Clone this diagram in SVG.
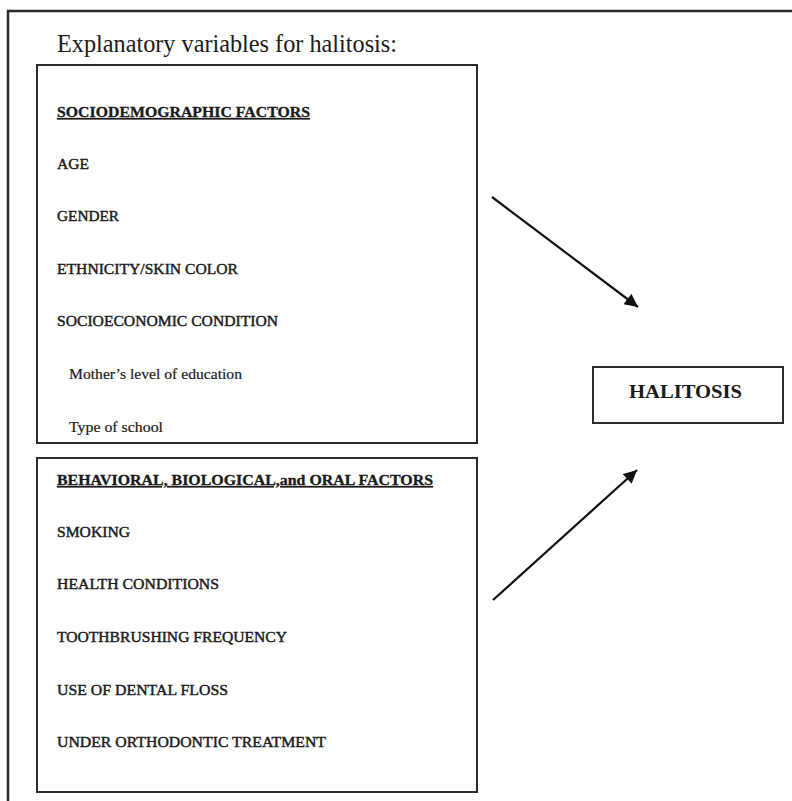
<svg xmlns="http://www.w3.org/2000/svg" width="792" height="801" viewBox="0 0 792 801">
<defs>
<style>
.frame{fill:none;stroke:#2a2a2a;stroke-width:2.5}
.box{fill:none;stroke:#2a2a2a;stroke-width:2}
.t{font-family:"Liberation Serif","Times New Roman",serif;fill:#1a1a1a}
.title{font-size:25px}
.hd{font-size:14.5px;font-weight:bold;text-decoration:underline;stroke:#1a1a1a;stroke-width:0.3}
.it{font-size:15.5px;stroke:#1a1a1a;stroke-width:0.45}
.sub{font-size:15.5px;stroke:#1a1a1a;stroke-width:0.2}
.main{font-size:18px;font-weight:bold}
.conn{stroke:#111;stroke-width:2.2;fill:none}
</style>
<marker id="ah" viewBox="0 0 10 10" refX="10" refY="5" markerWidth="6.5" markerHeight="6" markerUnits="strokeWidth" orient="auto">
<path d="M0,0 L10,5 L0,10 z" fill="#111"/>
</marker>
</defs>
<rect width="792" height="801" fill="#ffffff"/>
<path class="frame" d="M8,801 V11 H792"/>
<text class="t title" x="57" y="52" textLength="340" lengthAdjust="spacingAndGlyphs">Explanatory variables for halitosis:</text>

<g id="sociodemographic">
<rect class="box" x="37" y="65" width="440" height="378"/>
<text class="t hd" x="57" y="117" textLength="253" lengthAdjust="spacingAndGlyphs">SOCIODEMOGRAPHIC FACTORS</text>
<text class="t it" x="57" y="169" textLength="32" lengthAdjust="spacingAndGlyphs">AGE</text>
<text class="t it" x="57" y="221" textLength="62" lengthAdjust="spacingAndGlyphs">GENDER</text>
<text class="t it" x="57" y="274" textLength="181" lengthAdjust="spacingAndGlyphs">ETHNICITY/SKIN COLOR</text>
<text class="t it" x="57" y="326" textLength="221" lengthAdjust="spacingAndGlyphs">SOCIOECONOMIC CONDITION</text>
<text class="t sub" x="69" y="379" textLength="173" lengthAdjust="spacingAndGlyphs">Mother’s level of education</text>
<text class="t sub" x="69" y="432" textLength="94" lengthAdjust="spacingAndGlyphs">Type of school</text>
</g>

<g id="behavioral">
<rect class="box" x="37" y="458" width="440" height="334"/>
<text class="t hd" x="57" y="485" textLength="376" lengthAdjust="spacingAndGlyphs">BEHAVIORAL, BIOLOGICAL,and ORAL FACTORS</text>
<text class="t it" x="57" y="537" textLength="73" lengthAdjust="spacingAndGlyphs">SMOKING</text>
<text class="t it" x="57" y="589" textLength="162" lengthAdjust="spacingAndGlyphs">HEALTH CONDITIONS</text>
<text class="t it" x="57" y="642" textLength="230" lengthAdjust="spacingAndGlyphs">TOOTHBRUSHING FREQUENCY</text>
<text class="t it" x="57" y="695" textLength="171" lengthAdjust="spacingAndGlyphs">USE OF DENTAL FLOSS</text>
<text class="t it" x="57" y="747" textLength="269" lengthAdjust="spacingAndGlyphs">UNDER ORTHODONTIC TREATMENT</text>
</g>

<g id="halitosis">
<rect class="box" x="593" y="367" width="190" height="56"/>
<text class="t main" x="629" y="398" textLength="113" lengthAdjust="spacingAndGlyphs">HALITOSIS</text>
</g>

<g id="connectors">
<line class="conn" x1="492" y1="197" x2="638" y2="307" marker-end="url(#ah)"/>
<line class="conn" x1="493" y1="600" x2="637" y2="470" marker-end="url(#ah)"/>
</g>
</svg>
